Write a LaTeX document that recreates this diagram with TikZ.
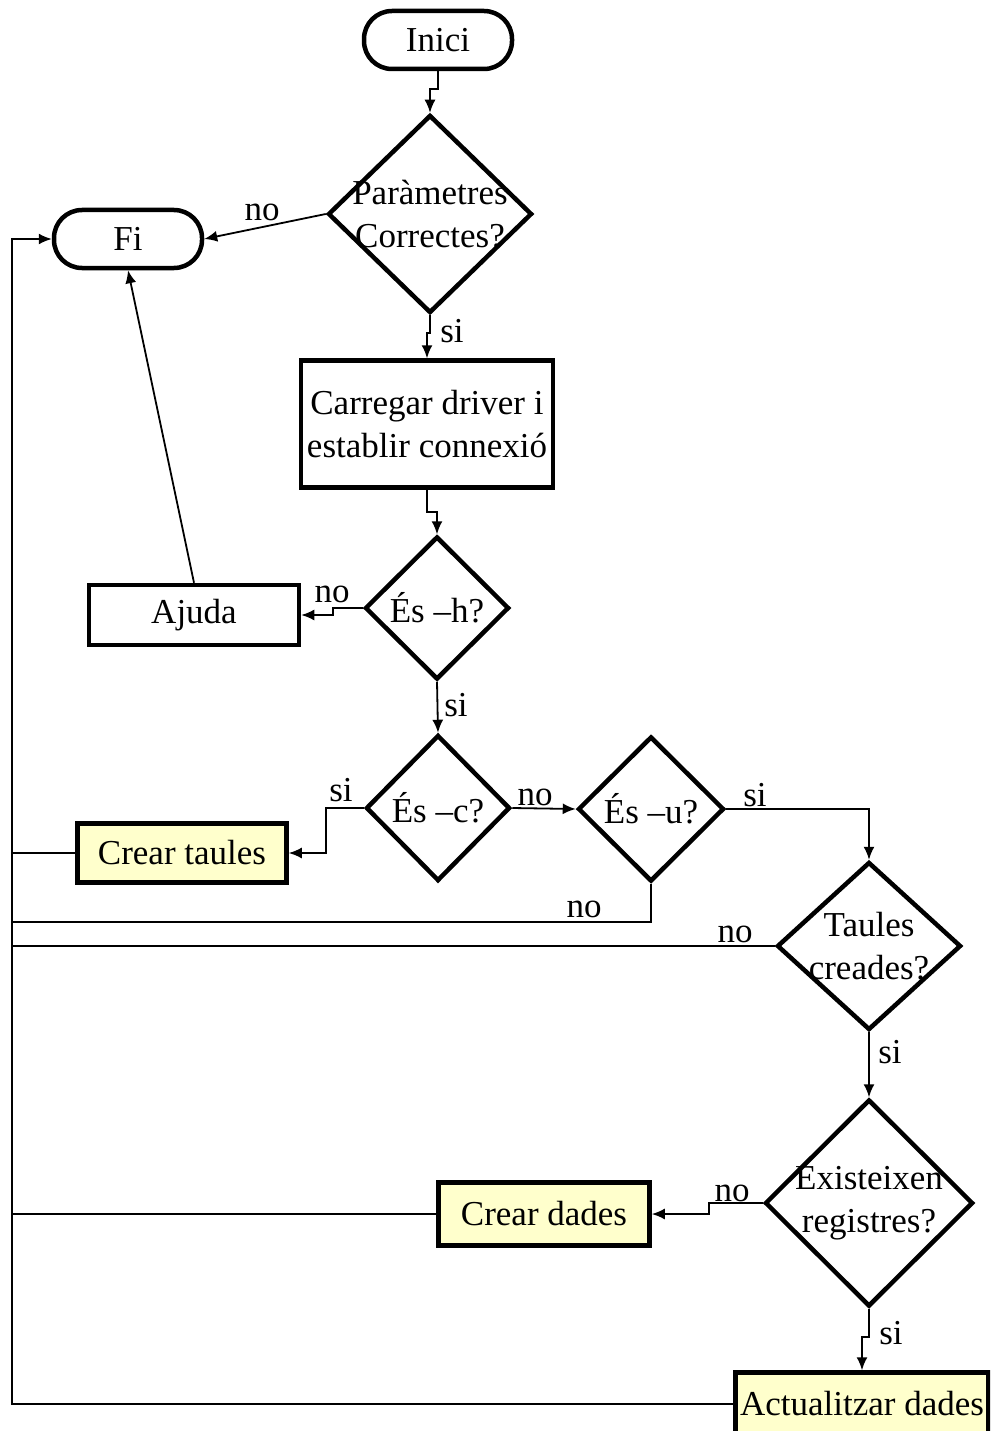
\documentclass[tikz,border=0pt]{standalone}
\usepackage{fontspec}
\setmainfont{Liberation Serif}
\usepackage{tikz}
\usetikzlibrary{arrows.meta}
\usetikzlibrary{shapes.geometric}
\definecolor{lightyellow}{HTML}{FFFFCC}
\tikzset{
  termnode/.style={draw, rectangle, rounded corners=28pt, line width=4.5pt, minimum width=148pt, minimum height=58pt, inner sep=0pt},
  procnode/.style={draw, rectangle, line width=4.5pt, inner sep=0pt},
  highlight/.style={draw, rectangle, line width=4.5pt, inner sep=0pt, fill=lightyellow},
  decnode/.style={draw, diamond, line width=4.5pt, inner sep=0pt},
  flow/.style={line width=1.8pt, -{Latex[length=13pt,width=11pt]}},
  plain/.style={line width=1.8pt},
  answer/.style={inner sep=0pt}
}

\begin{document}
\begin{tikzpicture}[x=1pt, y=-1pt, font=\fontsize{35}{43}\selectfont]
  \useasboundingbox (0,0) rectangle (990,1431);
  \clip (0,0) rectangle (990,1431);

  \node[termnode] (inici) at (438,40) {Inici};
  \node[termnode] (fi) at (128,239) {Fi};
  \node[decnode, minimum width=204pt, minimum height=198pt, label={[align=center]center:Paràmetres\\Correctes?}] (params) at (430,214) {};
  \node[procnode, minimum width=252pt, minimum height=127pt, align=center] (driver) at (427,424) {Carregar driver i\\establir connexió};
  \node[decnode, minimum width=144pt, minimum height=143pt] (esh) at (437,608) {És –h?};
  \node[procnode, minimum width=210pt, minimum height=60pt] (ajuda) at (194,615) {Ajuda};
  \node[decnode, minimum width=144pt, minimum height=146pt] (esc) at (438,808) {És –c?};
  \node[highlight, minimum width=209pt, minimum height=59pt] (crtaules) at (182,853) {Crear taules};
  \node[decnode, minimum width=146pt, minimum height=145pt] (esu) at (651,809) {És –u?};
  \node[decnode, minimum width=184pt, minimum height=168pt, label={[align=center]center:Taules\\creades?}] (taules) at (869,946) {};
  \node[decnode, minimum width=208pt, minimum height=207pt, label={[align=center]center:Existeixen\\registres?}] (existeix) at (869,1203) {};
  \node[highlight, minimum width=211pt, minimum height=63pt] (crdades) at (544,1214) {Crear dades};
  \node[highlight, minimum width=253pt, minimum height=63pt] (actual) at (862,1404) {Actualitzar dades};

  \coordinate (railtop) at (12,239);

  \draw[flow] (inici.south) -- ++(0,18) -| (params.north);
  \draw[flow] (params.west) -- (fi.east);
  \draw[flow] (params.south) -- ++(0,18) -| (driver.north);
  \draw[flow] (driver.south) -- ++(0,22) -| (esh.north);
  \draw[flow] (esh.west) -- ++(-30,0) |- (ajuda.east);
  \draw[flow] (ajuda.north) -- (fi.south);
  \draw[flow] (esh.south) -- (esc.north);
  \draw[flow] (esc.west) -- ++(-38,0) |- (crtaules.east);
  \draw[flow] (esc.east) -- (esu.west);
  \draw[flow] (esu.east) -| (taules.north);
  \draw[flow] (taules.south) -- (existeix.north);
  \draw[flow] (existeix.west) -- ++(-54,0) |- (crdades.east);
  \draw[flow] (existeix.south) -- ++(0,28) -| (actual.north);

  \draw[plain] (crtaules.west) -- (crtaules.west -| railtop);
  \draw[plain] (esu.south) -- ++(0,38) coordinate (esuret) -- (esuret -| railtop);
  \draw[plain] (taules.west) -- (taules.west -| railtop);
  \draw[plain] (crdades.west) -- (crdades.west -| railtop);
  \draw[flow] (actual.west) -| (railtop) -- (fi.west);

  \node[answer] (noparams) at (262,212) {no};
  \node[answer] (siparams) at (452,331) {si};
  \node[answer] (noesh) at (332,594) {no};
  \node[answer] (siesh) at (456,705) {si};
  \node[answer] (siesc) at (341,790) {si};
  \node[answer] (noesc) at (535,797) {no};
  \node[answer] (siesu) at (755,795) {si};
  \node[answer] (noesu) at (584,909) {no};
  \node[answer] (notaules) at (735,934) {no};
  \node[answer] (sitaules) at (890,1052) {si};
  \node[answer] (noexisteix) at (732,1193) {no};
  \node[answer] (siexisteix) at (891,1333) {si};
\end{tikzpicture}
\end{document}
